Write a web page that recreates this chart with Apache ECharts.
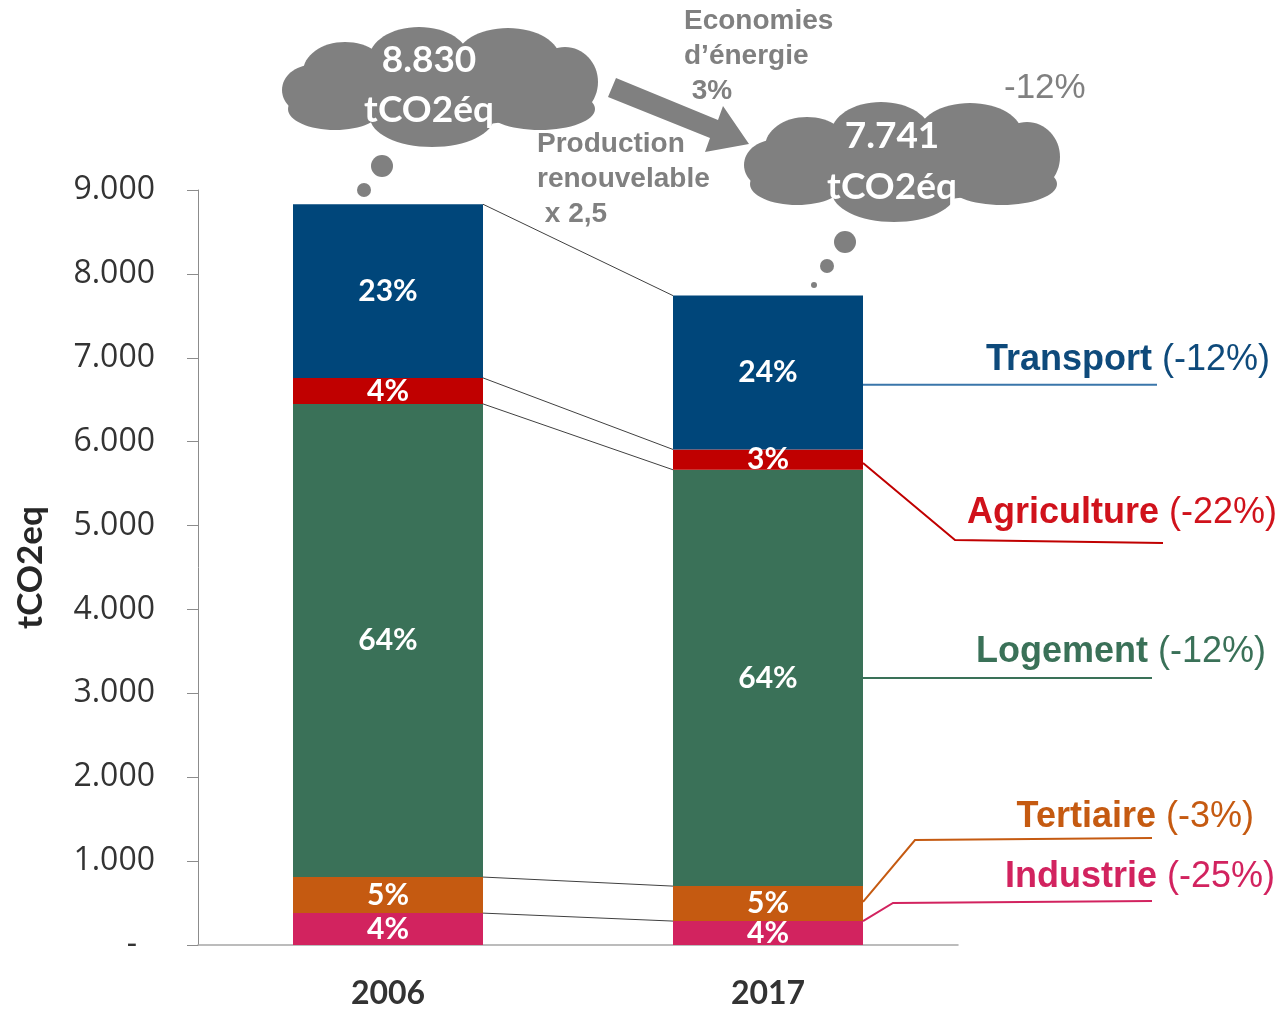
<!DOCTYPE html>
<html><head><meta charset="utf-8">
<script src="https://cdn.jsdelivr.net/npm/echarts@6/dist/echarts.min.js"></script>
<style>html,body{margin:0;padding:0;background:#fff}#c{width:1284px;height:1009px}</style>
</head><body><div id="c"></div>
<script>
// ---- data ----
const years = ['2006', '2017'];
const sectors = ['Industrie', 'Tertiaire', 'Logement', 'Agriculture', 'Transport'];
const industrie = [380, 285];
const tertiaire = [430, 417];
const logement = [5640, 4963];
const agriculture = [310, 242];
const transport = [2070, 1834];
const sectorChanges = ['(-25%)', '(-3%)', '(-12%)', '(-22%)', '(-12%)'];
const totalChange = '-12%';
const noteEnergy = 'Economies\nd\u2019énergie\n 3%';
const noteRenew = 'Production\nrenouvelable\n x 2,5';
const unit = 'tCO2éq';
const axisTitle = 'tCO2eq';

const seriesValues = [industrie, tertiaire, logement, agriculture, transport];
const barColors = ['#D2235F', '#C55A11', '#3A7158', '#C00000', '#00467A'];
const textColors = ['#D2235F', '#C55A11', '#3A7158', '#D0121B', '#0E4A7B'];
const lineColors = ['#D2235F', '#C55A11', '#3A7158', '#C00000', '#3A76AA'];

const totals = years.map((_, i) => seriesValues.reduce((s, a) => s + a[i], 0));
const fmt = v => String(v).replace(/\B(?=(\d{3})+(?!\d))/g, '.');

const tops = seriesValues.map((_, k) => years.map((_, i) => {
  let s = 0; for (let j = 0; j <= k; j++) s += seriesValues[j][i]; return s;
}));
const bases = seriesValues.map((_, k) => years.map((_, i) => tops[k][i] - seriesValues[k][i]));

const chart = echarts.init(document.getElementById('c'), null, {renderer: 'canvas'});

const barSeries = sectors.map((name, k) => ({
  name, type: 'bar', stack: 'total', barWidth: '50%',
  data: seriesValues[k],
  itemStyle: {color: barColors[k]},
  label: {
    show: true, position: 'inside', color: '#fff',
    fontFamily: 'Lato', fontWeight: 'bold', fontSize: 30,
    formatter: p => Math.round(p.value / totals[p.dataIndex] * 100) + '%'
  },
  z: 2
}));

const connector = {
  type: 'custom', name: 'connectors', silent: true,
  data: tops.map(t => [0, t[0], t[1]]),
  encode: {x: 0, y: [1, 2]},
  renderItem(params, api) {
    const a = api.coord([0, api.value(1)]);
    const b = api.coord([1, api.value(2)]);
    const bw = api.size([1, 0])[0] * 0.5;
    return {type: 'line', shape: {x1: a[0] + bw / 2, y1: a[1], x2: b[0] - bw / 2, y2: b[1]},
      style: {stroke: '#404040', lineWidth: 1}};
  },
  z: 1
};

chart.setOption({
  animation: false,
  textStyle: {fontFamily: 'Open Sans'},
  grid: {left: 198, right: 326, top: 190, bottom: 64, containLabel: false, outerBoundsMode: 'none'},
  xAxis: {
    type: 'category', data: years,
    axisLine: {lineStyle: {color: '#a6a6a6', width: 1.5}},
    axisTick: {show: false},
    axisLabel: {margin: 33, color: '#333', fontFamily: 'Lato', fontWeight: 'bold', fontSize: 32}
  },
  yAxis: {
    type: 'value', min: 0, max: 9000, interval: 1000,
    name: axisTitle, nameLocation: 'middle', nameRotate: 90, nameGap: 150,
    nameTextStyle: {fontFamily: 'Lato', fontWeight: 'bold', fontSize: 35, color: '#262626'},
    axisLine: {show: true, lineStyle: {color: '#8c8c8c'}},
    axisTick: {show: true, length: 11, lineStyle: {color: '#8c8c8c'}},
    splitLine: {show: false},
    axisLabel: {
      margin: 43, color: '#333', fontFamily: 'Open Sans', fontSize: 32,
      formatter: v => v === 0 ? '{d|-}' : fmt(v),
      rich: {d: {fontFamily: 'Open Sans', fontSize: 32, color: '#333', padding: [0, 18, 0, 0]}}
    }
  },
  series: barSeries.concat([connector])
});

// ---- annotations ----
const gray = '#808080';
function cloud(cx, cy) {
  const lobes = [
    [0, 0, 130, 40], [-128, 3, 30, 25], [-95, -15, 42, 30], [-21, -28, 50, 32],
    [68, -28, 52, 31], [125, -5, 33, 35], [100, 22, 55, 21], [-8, 30, 62, 30], [-105, 22, 47, 21]
  ];
  return {type: 'group', children: lobes.map(l => ({
    type: 'ellipse', shape: {cx: cx + l[0], cy: cy + l[1], rx: l[2], ry: l[3]},
    style: {fill: gray}, silent: true
  }))};
}
function bubbles(pts) {
  return pts.map(p => ({type: 'circle', shape: {cx: p[0], cy: p[1], r: p[2]}, style: {fill: gray}, silent: true}));
}
function cloudText(x, y1, y2, total) {
  const st = {fill: '#fff', fontFamily: 'Lato', fontWeight: 'bold', fontSize: 37, align: 'center', verticalAlign: 'middle'};
  return [
    {type: 'text', x, y: y1, z: 10, style: Object.assign({text: fmt(total)}, st)},
    {type: 'text', x, y: y2, z: 10, style: Object.assign({text: unit}, st)}
  ];
}

const p0 = chart.convertToPixel({gridIndex: 0}, [0, 0]);
const p1 = chart.convertToPixel({gridIndex: 0}, [1, 0]);
const barRight = p1[0] + (p1[0] - p0[0]) * 0.25;
const yOf = v => chart.convertToPixel({gridIndex: 0}, [1, v])[1];
const startFrac = [1.0, 0.55, 0.5, 0.33, 0.42];
const leaderStart = sectors.map((_, k) => yOf(bases[k][1] + seriesValues[k][1] * startFrac[k]));
const leaderLayout = [
  {elbow: [893, 903], end: [1152, 901], label: [1275, 877]},
  {elbow: [915, 840], end: [1152, 838], label: [1254, 817]},
  {elbow: null, end: [1152, null], label: [1266, 652]},
  {elbow: [955, 540], end: [1163, 543], label: [1277, 513]},
  {elbow: null, end: [1157, null], label: [1270, 360]}
];

const graphics = [];
graphics.push(cloud(440, 87));
graphics.push(cloud(902, 162));
graphics.push(...bubbles([[382, 166, 11], [364, 190, 7], [351, 209, 3]]));
graphics.push(...bubbles([[845, 242, 11], [827, 266, 7], [814, 285, 3]]));
graphics.push(...cloudText(429, 60, 110, totals[0]));
graphics.push(...cloudText(892, 136, 187, totals[1]));
graphics.push({type: 'polygon', silent: true, shape: {points: [
  [616, 78], [718, 120], [723, 106], [749, 144], [705, 152], [710, 138], [608, 97]
]}, style: {fill: gray}});
const noteStyle = {fill: gray, fontFamily: 'Liberation Sans', fontWeight: 'bold', fontSize: 28, lineHeight: 35, align: 'left', verticalAlign: 'top'};
graphics.push({type: 'text', x: 684, y: 4, z: 10, style: Object.assign({text: noteEnergy}, noteStyle)});
graphics.push({type: 'text', x: 537, y: 127, z: 10, style: Object.assign({text: noteRenew}, noteStyle)});
graphics.push({type: 'text', x: 1004, y: 88, style: {text: totalChange, fill: gray, fontFamily: 'Liberation Sans', fontSize: 35, align: 'left', verticalAlign: 'middle'}});

sectors.forEach((name, k) => {
  const L = leaderLayout[k];
  const sy = leaderStart[k];
  const pts = [[barRight, sy]];
  if (L.elbow) pts.push(L.elbow);
  pts.push([L.end[0], L.end[1] == null ? sy : L.end[1]]);
  graphics.push({type: 'polyline', silent: true, shape: {points: pts}, style: {stroke: lineColors[k], lineWidth: 2, fill: null}});
  graphics.push({type: 'text', x: L.label[0], y: L.label[1], style: {
    text: '{b|' + name + '}{r|' + sectorChanges[k] + '}',
    align: 'right', verticalAlign: 'middle',
    rich: {
      b: {fill: textColors[k], fontFamily: 'Liberation Sans', fontWeight: 'bold', fontSize: 36},
      r: {fill: textColors[k], fontFamily: 'Liberation Sans', fontSize: 36, padding: [0, 0, 0, 10]}
    }
  }});
});

chart.setOption({graphic: graphics});
</script>
</body></html>
